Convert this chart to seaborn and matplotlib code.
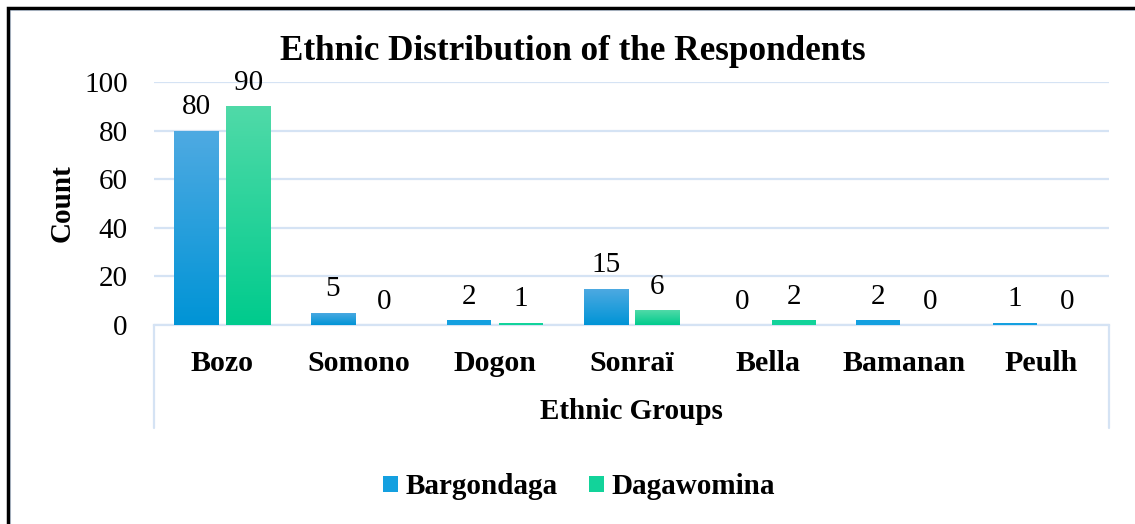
import matplotlib
matplotlib.use("Agg")
import matplotlib.pyplot as plt
import numpy as np
import pandas as pd
import seaborn as sns
from matplotlib.colors import LinearSegmentedColormap
from matplotlib.patches import Rectangle

# data
groups = ["Bozo", "Somono", "Dogon", "Sonraï", "Bella", "Bamanan", "Peulh"]
bargondaga = [80, 5, 2, 15, 0, 2, 1]
dagawomina = [90, 0, 1, 6, 2, 0, 0]
sites = ["Bargondaga", "Dagawomina"]

df = pd.DataFrame({
    "group": groups * 2,
    "count": bargondaga + dagawomina,
    "site": [sites[0]] * len(groups) + [sites[1]] * len(groups),
})

sns.set_style("white")
plt.rcParams["font.family"] = ["Liberation Serif", "DejaVu Serif"]
plt.rcParams["text.color"] = "black"
plt.rcParams["xtick.color"] = "black"
plt.rcParams["ytick.color"] = "black"
plt.rcParams["axes.labelcolor"] = "black"

grid_col = "#D5E3F4"
blue_top, blue_bot = "#4FAAE2", "#0094D6"
green_top, green_bot = "#50DAA8", "#00CB8D"

fig = plt.figure(figsize=(11.35, 5.24), dpi=100)
ax = fig.add_axes([154 / 1135, 1 - 325 / 524, (1109 - 154) / 1135, (325 - 82) / 524])

sns.barplot(data=df, x="group", y="count", hue="site", ax=ax,
            palette=["#14A0E0", "#12D39A"], width=0.76, gap=0.15,
            saturation=1, linewidth=0, legend=True, zorder=3)

ax.set_yticks(range(0, 101, 20))
ax.grid(axis="y", color=grid_col, linewidth=1.6)
ax.set_axisbelow(True)
for s in ["top", "right", "left"]:
    ax.spines[s].set_visible(False)
ax.spines["bottom"].set_color(grid_col)
ax.spines["bottom"].set_linewidth(1.6)
ax.spines["bottom"].set_zorder(1)
ax.tick_params(axis="y", length=0, pad=19, labelsize=21)
ax.tick_params(axis="x", length=0, pad=18, labelsize=21.5)
for lab in ax.get_xticklabels():
    lab.set_fontweight("bold")

# gradient fill on the taller bars
cmaps = [LinearSegmentedColormap.from_list("b", [blue_bot, blue_top]),
         LinearSegmentedColormap.from_list("g", [green_bot, green_top])]
grad = np.linspace(0, 1, 256).reshape(-1, 1)
for cont, cm in zip(ax.containers, cmaps):
    for bar in cont:
        x0, w, h = bar.get_x(), bar.get_width(), bar.get_height()
        if h < 5:
            continue
        im = ax.imshow(grad, extent=[x0, x0 + w, 0, h], origin="lower",
                       aspect="auto", cmap=cm, zorder=3.1)
        im.set_clip_path(bar)
    ax.bar_label(cont, fmt="%d", padding=7.5, fontsize=21)
ax.set_ylim(0, 100)
ax.set_xlim(-0.5, len(groups) - 0.5)

ax.set_ylabel("Count", fontsize=21, fontweight="bold", va="center")
ax.yaxis.set_label_coords(-0.096, 0.5)
ax.set_xlabel("Ethnic Groups", fontsize=21, fontweight="bold", va="center")
ax.xaxis.set_label_coords(0.5, -0.354)

# category box lines under the axis
for xs in (0, 1):
    ax.plot([xs, xs], [0, -0.425], transform=ax.transAxes, color=grid_col,
            linewidth=1.6, clip_on=False)

fig.text(573 / 1135, 1 - 51 / 524, "Ethnic Distribution of the Respondents",
         ha="center", va="center", fontsize=25.3, fontweight="bold")

handles, labels = ax.get_legend_handles_labels()
ax.legend_.remove()
fig.legend(handles, labels, loc="center", bbox_to_anchor=(579 / 1135, 1 - 487 / 524),
           ncol=2, frameon=False, handlelength=0.5, handleheight=0.5,
           handletextpad=0.25, columnspacing=1.1,
           prop={"size": 21, "weight": "bold"})

# outer frame
fig.add_artist(Rectangle((10 / 1135, -0.05), 1.2, 1 - 10 / 524 + 0.05,
                         transform=fig.transFigure, fill=False,
                         edgecolor=grid_col, linewidth=1.5))
fig.add_artist(Rectangle((7.5 / 1135, -0.05), 1.2, 1 - 7.5 / 524 + 0.05,
                         transform=fig.transFigure, fill=False,
                         edgecolor="black", linewidth=2.5))

fig.savefig("out.png", dpi=100)
